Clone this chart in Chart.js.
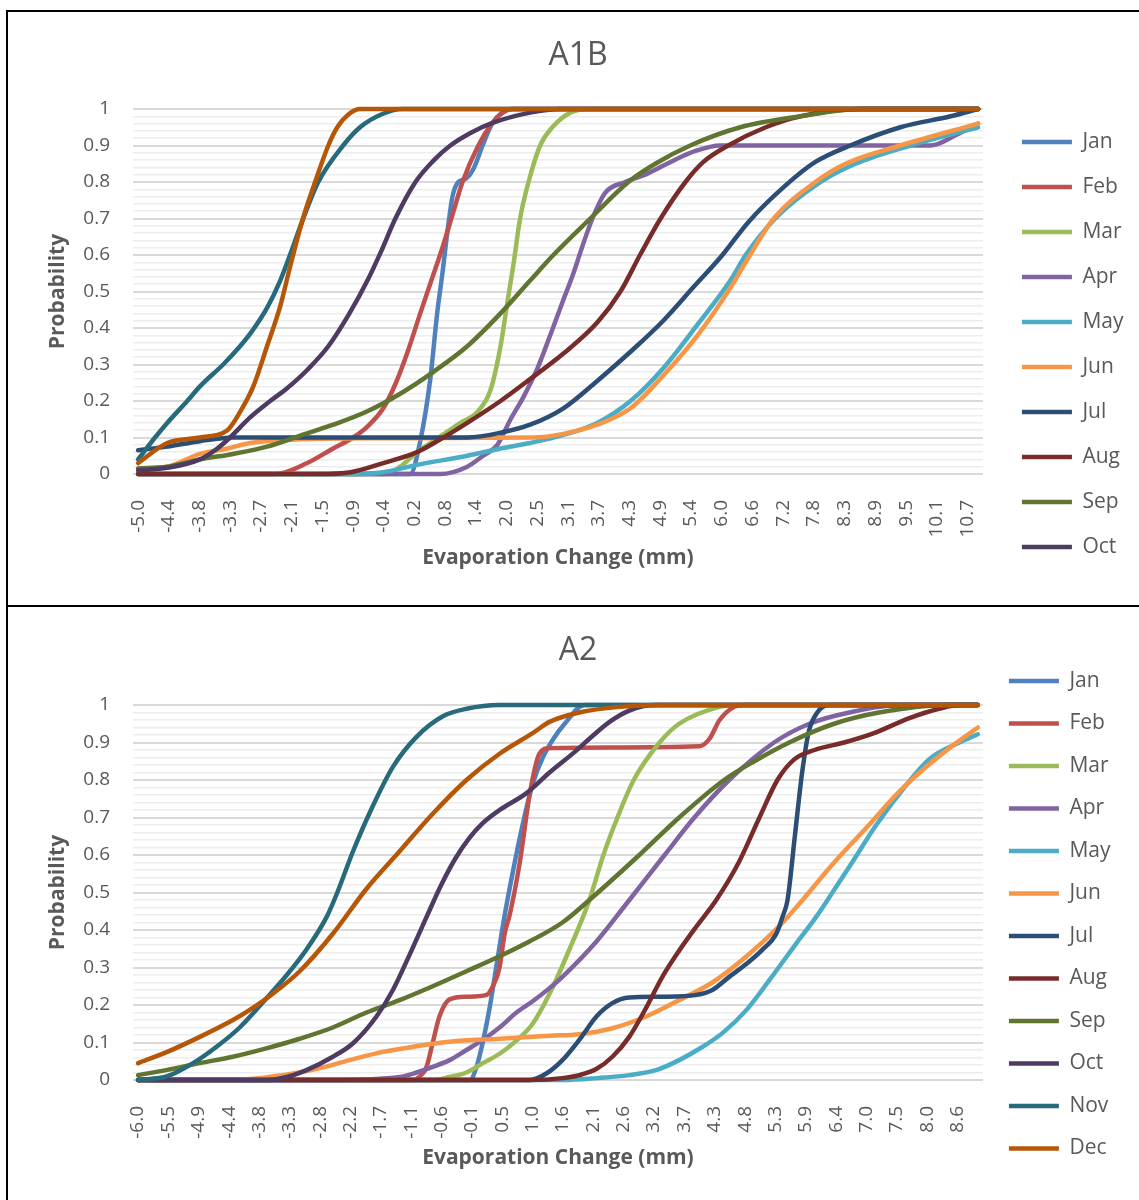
<!DOCTYPE html>
<html>
<head>
<meta charset="utf-8">
<title>Evaporation change CDF</title>
<script src="https://cdn.jsdelivr.net/npm/chart.js@4.4.1/dist/chart.umd.min.js"></script>
<style>
  body { margin: 0; background: #fff; overflow: hidden; width: 1139px; height: 1200px; }
  #frame { position: absolute; left: 6px; top: 10px; width: 1300px; border: 2px solid #000; border-right: none; }
  .panel { position: relative; width: 1140px; }
  #panelTop { height: 593px; border-bottom: 2px solid #000; }
  #panelBottom { height: 600px; }
  canvas { display: block; }
</style>
</head>
<body>
<div id="frame">
  <div class="panel" id="panelTop"><canvas id="chartA1B" width="1140" height="593"></canvas></div>
  <div class="panel" id="panelBottom"><canvas id="chartA2" width="1140" height="593"></canvas></div>
</div>
<script>
const months = ['Jan', 'Feb', 'Mar', 'Apr', 'May', 'Jun', 'Jul', 'Aug', 'Sep', 'Oct', 'Nov', 'Dec'];
const colors = ['#4F81BD', '#C0504D', '#9BBB59', '#8064A2', '#4BACC6', '#F79646',
                '#2C4D75', '#772C2A', '#5F7530', '#4D3B62', '#276A7C', '#B65708'];

// A1B scenario - [evaporation change (mm), cumulative probability]
const xTicksA1B = ['-5.0', '-4.4', '-3.8', '-3.3', '-2.7', '-2.1', '-1.5', '-0.9', '-0.4', '0.2', '0.8', '1.4', '2.0', '2.5',
                   '3.1', '3.7', '4.3', '4.9', '5.4', '6.0', '6.6', '7.2', '7.8', '8.3', '8.9', '9.5', '10.1', '10.7'];
const a1bJan = [[-5.0, 0], [0.15, 0], [0.34, 0.09], [0.53, 0.26], [0.66, 0.44], [0.76, 0.55], [0.86, 0.67], [0.95, 0.76],
                [1.06, 0.8], [1.21, 0.81], [1.36, 0.84], [1.52, 0.9], [1.7, 0.96], [1.89, 0.99], [2.05, 1], [10.9, 1]];
const a1bFeb = [[-5.0, 0], [-2.4, 0], [-1.8, 0.03], [-1.31, 0.07], [-0.93, 0.1], [-0.66, 0.13], [-0.36, 0.18], [-0.12, 0.25],
                [0.09, 0.33], [0.34, 0.44], [0.55, 0.53], [0.76, 0.62], [0.95, 0.71], [1.14, 0.8], [1.44, 0.9], [1.67, 0.955],
                [1.9, 0.99], [2.1, 1], [10.9, 1]];
const a1bMar = [[-5.0, 0], [-0.3, 0], [-0.04, 0.02], [0.28, 0.06], [0.59, 0.09], [1.1, 0.14], [1.42, 0.17], [1.67, 0.23],
                [1.86, 0.35], [2.0, 0.48], [2.1, 0.57], [2.23, 0.7], [2.39, 0.8], [2.61, 0.9], [2.84, 0.95], [3.18, 0.99],
                [3.56, 1], [10.9, 1]];
const a1bApr = [[-5.0, 0], [0.72, 0], [1.23, 0.02], [1.53, 0.05], [1.8, 0.08], [2.05, 0.15], [2.29, 0.21], [2.56, 0.29],
                [2.8, 0.38], [3.03, 0.47], [3.24, 0.55], [3.4, 0.62], [3.6, 0.7], [3.84, 0.77], [4.22, 0.8], [4.6, 0.82],
                [5.08, 0.855], [5.55, 0.885], [6.02, 0.9], [10.0, 0.9], [10.5, 0.93], [10.9, 0.96]];
const a1bMay = [[-5.0, 0], [-1.0, 0], [-0.36, 0.005], [0.28, 0.025], [1.23, 0.05], [1.86, 0.07], [2.42, 0.085], [3.05, 0.107],
                [3.69, 0.14], [4.32, 0.2], [4.94, 0.29], [5.59, 0.41], [6.21, 0.53], [6.5, 0.6], [7.06, 0.7], [7.92, 0.8],
                [8.58, 0.85], [9.62, 0.9], [10.9, 0.95]];
const a1bJun = [[-5.0, 0.015], [-4.45, 0.02], [-3.83, 0.055], [-3.31, 0.07], [-2.88, 0.085], [-2.25, 0.093], [-0.66, 0.098],
                [2.48, 0.1], [3.05, 0.11], [3.69, 0.135], [4.32, 0.18], [4.94, 0.27], [5.59, 0.38], [6.21, 0.51], [6.5, 0.58],
                [7.03, 0.7], [7.82, 0.8], [8.39, 0.85], [9.43, 0.9], [10.9, 0.96]];
const a1bJul = [[-5.0, 0.065], [-4.45, 0.075], [-3.83, 0.09], [-3.2, 0.1], [1.23, 0.1], [1.86, 0.113], [2.42, 0.135],
                [3.05, 0.18], [3.69, 0.255], [4.32, 0.335], [4.94, 0.42], [5.5, 0.51], [6.06, 0.6], [6.55, 0.69], [7.25, 0.79],
                [7.82, 0.855], [8.48, 0.9], [9.43, 0.95], [10.38, 0.98], [10.9, 1]];
const a1bAug = [[-5.0, 0], [-1.6, 0], [-0.98, 0.005], [-0.36, 0.03], [0.28, 0.06], [0.78, 0.1], [1.23, 0.14], [1.86, 0.2],
                [2.42, 0.26], [3.05, 0.33], [3.69, 0.415], [4.13, 0.5], [4.5, 0.6], [4.89, 0.7], [5.36, 0.8], [5.7, 0.855],
                [6.17, 0.9], [6.88, 0.95], [7.54, 0.98], [8.67, 1], [10.9, 1]];
const a1bSep = [[-5.0, 0.015], [-4.45, 0.02], [-3.83, 0.04], [-3.2, 0.055], [-2.56, 0.075], [-1.93, 0.105], [-1.31, 0.135],
                [-0.66, 0.172], [-0.04, 0.22], [0.59, 0.28], [1.23, 0.35], [1.86, 0.44], [2.42, 0.53], [2.86, 0.6], [3.56, 0.7],
                [4.28, 0.8], [4.79, 0.85], [5.45, 0.9], [6.4, 0.95], [7.54, 0.98], [8.67, 1], [10.9, 1]];
const a1bOct = [[-5.0, 0.01], [-4.45, 0.017], [-3.83, 0.04], [-3.5, 0.07], [-3.26, 0.1], [-2.88, 0.155], [-2.5, 0.2],
                [-2.18, 0.235], [-1.8, 0.285], [-1.4, 0.35], [-1.0, 0.44], [-0.66, 0.53], [-0.4, 0.61], [-0.13, 0.7],
                [0.25, 0.8], [0.6, 0.86], [0.91, 0.9], [1.3, 0.935], [1.67, 0.96], [2.42, 0.99], [2.99, 1], [10.9, 1]];
const a1bNov = [[-5.0, 0.04], [-4.68, 0.1], [-4.45, 0.14], [-4.07, 0.2], [-3.83, 0.24], [-3.39, 0.3], [-3.1, 0.345],
                [-2.85, 0.39], [-2.56, 0.455], [-2.31, 0.53], [-2.1, 0.61], [-1.9, 0.69], [-1.59, 0.8], [-1.12, 0.9],
                [-0.8, 0.95], [-0.4, 0.985], [0.0, 1], [10.9, 1]];
const a1bDec = [[-5.0, 0.03], [-4.45, 0.085], [-3.83, 0.1], [-3.31, 0.12], [-3.07, 0.17], [-2.82, 0.24], [-2.56, 0.35],
                [-2.31, 0.46], [-2.12, 0.57], [-1.88, 0.7], [-1.65, 0.8], [-1.4, 0.9], [-1.23, 0.95], [-1.02, 0.985], [-0.8, 1],
                [10.9, 1]];

// A2 scenario
const xTicksA2 = ['-6.0', '-5.5', '-4.9', '-4.4', '-3.8', '-3.3', '-2.8', '-2.2', '-1.7', '-1.1', '-0.6', '-0.1', '0.5', '1.0',
                  '1.6', '2.1', '2.6', '3.2', '3.7', '4.3', '4.8', '5.3', '5.9', '6.4', '7.0', '7.5', '8.0', '8.6'];
const a2Jan = [[-6.0, 0], [-0.09, 0], [0.03, 0.035], [0.14, 0.1], [0.26, 0.19], [0.39, 0.31], [0.52, 0.43], [0.67, 0.55],
               [0.85, 0.68], [1.03, 0.79], [1.21, 0.86], [1.4, 0.91], [1.6, 0.95], [1.95, 1], [8.96, 1]];
const a2Feb = [[-6.0, 0], [-1.1, 0], [-0.98, 0.01], [-0.86, 0.035], [-0.75, 0.1], [-0.63, 0.17], [-0.45, 0.215], [-0.15, 0.222],
               [0.21, 0.227], [0.32, 0.25], [0.44, 0.3], [0.53, 0.39], [0.62, 0.44], [0.8, 0.58], [0.98, 0.765], [1.15, 0.87],
               [1.33, 0.885], [4.0, 0.89], [4.18, 0.91], [4.36, 0.96], [4.62, 0.995], [4.8, 1], [8.96, 1]];
const a2Mar = [[-6.0, 0], [-0.75, 0], [-0.45, 0.008], [-0.15, 0.02], [0.14, 0.045], [0.44, 0.07], [0.74, 0.105], [1.03, 0.15],
               [1.33, 0.23], [1.69, 0.35], [2.04, 0.48], [2.29, 0.6], [2.54, 0.7], [2.83, 0.8], [3.29, 0.9], [3.64, 0.95],
               [4.36, 0.995], [4.71, 1], [8.96, 1]];
const a2Apr = [[-6.0, 0], [-2.53, 0], [-1.34, 0.008], [-1.04, 0.02], [-0.75, 0.035], [-0.45, 0.053], [-0.15, 0.08], [0.14, 0.107],
               [0.44, 0.14], [0.74, 0.18], [1.03, 0.21], [1.33, 0.245], [1.56, 0.275], [2.17, 0.37], [2.7, 0.47], [3.38, 0.6],
               [3.91, 0.7], [4.53, 0.8], [5.33, 0.9], [5.96, 0.95], [6.67, 0.98], [7.56, 1], [8.96, 1]];
const a2May = [[-6.0, 0], [1.56, 0], [2.17, 0.005], [2.75, 0.013], [3.24, 0.027], [3.64, 0.053], [4.05, 0.088], [4.41, 0.125],
               [4.84, 0.187], [5.25, 0.267], [5.73, 0.365], [6.08, 0.435], [6.37, 0.5], [6.72, 0.58], [7.15, 0.68], [7.65, 0.78],
               [8.09, 0.855], [8.63, 0.9], [8.96, 0.922]];
const a2Jun = [[-6.0, 0], [-4.31, 0], [-3.42, 0.013], [-2.81, 0.03], [-2.23, 0.053], [-1.64, 0.075], [-1.04, 0.09], [-0.45, 0.102],
               [0.44, 0.11], [1.33, 0.118], [1.86, 0.122], [2.45, 0.138], [3.06, 0.17], [3.64, 0.213], [4.23, 0.26], [4.84, 0.33],
               [5.42, 0.41], [5.78, 0.47], [6.4, 0.58], [7.02, 0.68], [7.5, 0.76], [8.0, 0.83], [8.54, 0.895], [8.96, 0.94]];
const a2Jul = [[-6.0, 0], [0.98, 0], [1.28, 0.018], [1.56, 0.053], [1.86, 0.107], [2.17, 0.17], [2.45, 0.205], [2.75, 0.22],
               [3.34, 0.222], [3.95, 0.227], [4.23, 0.24], [4.53, 0.275], [4.84, 0.31], [5.12, 0.347], [5.37, 0.39], [5.48, 0.435],
               [5.57, 0.48], [5.7, 0.65], [5.83, 0.82], [5.95, 0.93], [6.1, 0.98], [6.3, 1], [8.96, 1]];
const a2Aug = [[-6.0, 0], [0.98, 0], [1.56, 0.005], [1.86, 0.013], [2.17, 0.03], [2.45, 0.062], [2.75, 0.115], [3.06, 0.195],
               [3.34, 0.275], [3.64, 0.345], [3.95, 0.41], [4.3, 0.48], [4.7, 0.58], [5.07, 0.7], [5.39, 0.8], [5.69, 0.855],
               [6.05, 0.88], [6.58, 0.9], [7.11, 0.925], [7.74, 0.965], [8.27, 0.99], [8.63, 1], [8.96, 1]];
const a2Sep = [[-6.0, 0.013], [-5.48, 0.027], [-4.9, 0.045], [-4.31, 0.062], [-3.7, 0.085], [-3.12, 0.11], [-2.53, 0.14],
               [-1.93, 0.18], [-1.34, 0.213], [-0.75, 0.25], [-0.15, 0.29], [0.44, 0.33], [0.98, 0.37], [1.56, 0.42], [2.04, 0.48],
               [2.93, 0.6], [3.64, 0.7], [4.44, 0.8], [4.98, 0.85], [5.6, 0.9], [6.4, 0.95], [7.2, 0.98], [8.45, 1], [8.96, 1]];
const a2Oct = [[-6.0, 0], [-3.7, 0], [-3.35, 0.008], [-2.99, 0.027], [-2.53, 0.062], [-2.17, 0.098], [-1.75, 0.17], [-1.46, 0.24],
               [-1.16, 0.335], [-0.86, 0.435], [-0.6, 0.52], [-0.35, 0.59], [-0.1, 0.645], [0.14, 0.685], [0.44, 0.72],
               [0.92, 0.765], [1.33, 0.82], [1.78, 0.875], [2.04, 0.91], [2.4, 0.955], [2.75, 0.985], [3.2, 1], [8.96, 1]];
const a2Nov = [[-6.0, 0], [-5.48, 0.01], [-5.02, 0.045], [-4.59, 0.09], [-4.19, 0.14], [-3.7, 0.22], [-3.35, 0.28], [-2.99, 0.35],
               [-2.64, 0.435], [-2.45, 0.5], [-2.17, 0.61], [-1.82, 0.73], [-1.46, 0.835], [-1.04, 0.915], [-0.57, 0.97],
               [-0.15, 0.99], [0.44, 1], [8.96, 1]];
const a2Dec = [[-6.0, 0.045], [-5.48, 0.075], [-4.9, 0.115], [-4.31, 0.16], [-4.01, 0.187], [-3.6, 0.23], [-3.12, 0.29],
               [-2.53, 0.39], [-1.93, 0.51], [-1.34, 0.61], [-0.75, 0.71], [-0.15, 0.8], [0.44, 0.87], [1.03, 0.925], [1.33, 0.955],
               [1.86, 0.98], [2.58, 0.995], [3.29, 1], [8.96, 1]];

const seriesA1B = [a1bJan, a1bFeb, a1bMar, a1bApr, a1bMay, a1bJun, a1bJul, a1bAug, a1bSep, a1bOct, a1bNov, a1bDec];
const seriesA2 = [a2Jan, a2Feb, a2Mar, a2Apr, a2May, a2Jun, a2Jul, a2Aug, a2Sep, a2Oct, a2Nov, a2Dec];

const FONT = "'Open Sans', 'DejaVu Sans', sans-serif";
const TEXT = '#595959';

function isMajor(v) {
    return Math.abs(v * 10 - Math.round(v * 10)) < 1e-6;
}

function buildChart(canvasId, title, series, tickLabels, o) {
    const first = parseFloat(tickLabels[0]);
    const last = parseFloat(tickLabels[tickLabels.length - 1]);
    const step = (last - first) / (tickLabels.length - 1);
    const cat = step / 3; // three categories per shown label

    const datasets = series.map((data, i) => ({
        label: months[i],
        data: data,
        borderColor: colors[i],
        backgroundColor: colors[i],
        borderWidth: 4.5,
        pointRadius: 0,
        pointHoverRadius: 0,
        cubicInterpolationMode: 'monotone',
        borderCapStyle: 'round',
        borderJoinStyle: 'round',
        clip: false,
        order: series.length - i
    }));

    const ctx = document.getElementById(canvasId).getContext('2d');
    return new Chart(ctx, {
        type: 'line',
        data: { datasets },
        options: {
            responsive: false,
            animation: false,
            devicePixelRatio: 1,
            layout: { padding: { left: o.padL, right: o.padR, top: 0, bottom: 0 } },
            scales: {
                x: {
                    type: 'linear',
                    min: first - cat / 2,
                    max: first + (o.nCats - 1) * cat + cat / 2,
                    afterBuildTicks: axis => {
                        axis.ticks = tickLabels.map((t, i) => ({ value: first + i * step }));
                    },
                    afterFit: s => { s.height = o.xAxisH; },
                    ticks: {
                        autoSkip: false,
                        minRotation: 90,
                        maxRotation: 90,
                        padding: 18,
                        color: TEXT,
                        font: { family: FONT, size: 19 },
                        callback: (v, i) => tickLabels[i]
                    },
                    grid: { display: false },
                    border: { display: false },
                    title: {
                        display: true,
                        text: 'Evaporation Change (mm)',
                        color: TEXT,
                        font: { family: FONT, size: 21, weight: 'bold' },
                        padding: { top: 0, bottom: o.xTitleBottom }
                    }
                },
                y: {
                    min: 0,
                    max: 1,
                    afterFit: s => { s.width = o.yAxisW; },
                    ticks: {
                        stepSize: 0.02,
                        autoSkip: false,
                        padding: 23,
                        color: TEXT,
                        font: { family: FONT, size: 19 },
                        callback: v => isMajor(v) ? String(Math.round(v * 10) / 10) : ''
                    },
                    grid: {
                        drawTicks: false,
                        color: c => isMajor(c.tick.value) ? '#d9d9d9' : '#ededed',
                        lineWidth: c => isMajor(c.tick.value) ? 2 : 1.5
                    },
                    border: { display: false },
                    title: {
                        display: true,
                        text: 'Probability',
                        color: TEXT,
                        font: { family: FONT, size: 21, weight: 'bold' },
                        padding: { top: o.yTitleTop, bottom: 0 }
                    }
                },
                gap: {
                    type: 'linear',
                    position: 'right',
                    afterFit: s => { s.width = o.gapW; },
                    ticks: { display: false },
                    grid: { display: false },
                    border: { display: false }
                }
            },
            plugins: {
                title: {
                    display: true,
                    text: title,
                    color: TEXT,
                    font: { family: FONT, size: 32, weight: 'normal' },
                    padding: { top: o.titleTop, bottom: o.titleBottom }
                },
                legend: {
                    position: 'right',
                    align: 'start',
                    title: { display: true, text: '', font: { size: 10, lineHeight: 1 }, padding: { top: o.legendOffset, bottom: 0 } },
                    labels: {
                        usePointStyle: true,
                        pointStyle: 'line',
                        pointStyleWidth: 50,
                        padding: o.legendPad,
                        color: TEXT,
                        font: { family: FONT, size: 21 },
                        filter: item => item.datasetIndex < o.legendCount,
                        sort: (a, b) => a.datasetIndex - b.datasetIndex
                    }
                },
                tooltip: { enabled: false }
            }
        }
    });
}

buildChart('chartA1B', 'A1B', seriesA1B, xTicksA1B, {
    nCats: 83, padL: 14.5, padR: 14.5, yAxisW: 110.5, yTitleTop: 22.9, gapW: 15,
    xAxisH: 131, xTitleBottom: 34.4, titleTop: 24.8, titleBottom: 33.8,
    legendPad: 24, legendOffset: 85.5, legendCount: 10
});

buildChart('chartA2', 'A2', seriesA2, xTicksA2, {
    nCats: 84, padL: 27.5, padR: 27.5, yAxisW: 97.5, yTitleTop: 9.9, gapW: 4.5,
    xAxisH: 120, xTitleBottom: 29.4, titleTop: 24.8, titleBottom: 34.8,
    legendPad: 21.5, legendOffset: 32, legendCount: 12
});
</script>
</body>
</html>
